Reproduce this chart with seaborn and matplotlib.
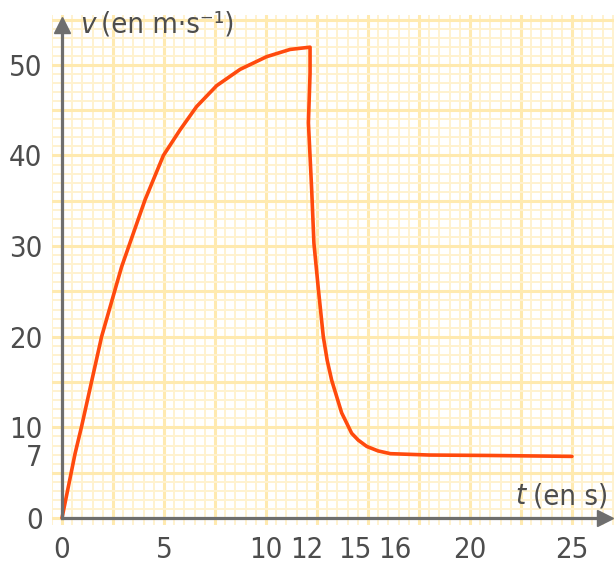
import numpy as np
import pandas as pd
import matplotlib
matplotlib.use("Agg")
import matplotlib.pyplot as plt
import matplotlib.transforms as mtransforms
import seaborn as sns

# speed of the car (t in s, v in m/s)
t_values = [0, 0.64, 0.96, 1.94, 2.92, 4.07, 4.97, 5.78, 6.6, 7.58, 8.73,
            10.03, 11.18, 12.16, 12.16, 12.08, 12.24, 12.35, 12.57, 12.81,
            13.0, 13.22, 13.71, 14.2, 14.52, 14.94, 15.5, 16.1, 18.0, 21.0, 25.0]
v_values = [0, 7.1, 10.1, 20.0, 27.7, 35.1, 40.0, 42.8, 45.4, 47.7, 49.5,
            50.9, 51.7, 51.95, 49.1, 43.6, 36.2, 30.3, 25.2, 20.0,
            17.4, 15.2, 11.6, 9.35, 8.6, 7.9, 7.4, 7.1, 6.95, 6.9, 6.8]

x_ticks = [0, 5, 10, 12, 15, 16, 20, 25]
y_ticks = [0, 7, 10, 20, 30, 40, 50]

AXIS_GREY = "#6e6e6e"
TEXT_GREY = "#4d4d4d"
CURVE = "#ff4a0d"
GRID_MINOR = "#fff2cf"
GRID_MAJOR = "#ffeab0"

sns.set_style("white")
plt.rcParams["font.family"] = ["DejaVu Sans"]
plt.rcParams["font.stretch"] = "condensed"

df = pd.DataFrame({"t": t_values, "v": v_values})

fig = plt.figure(figsize=(6.14, 5.67), dpi=100)
ax = fig.add_axes([52 / 614, 42 / 567, 562 / 614, 510 / 567])
ax.set_xlim(-0.49, 27.06)
ax.set_ylim(-0.77, 55.5)

# graph paper background
for gx in np.arange(-0.5, 27.1, 0.5):
    major = abs(gx / 2.5 - round(gx / 2.5)) < 1e-6
    ax.axvline(gx, color=GRID_MAJOR if major else GRID_MINOR,
               lw=2.2 if major else 1.4, zorder=0)
for gy in np.arange(0, 56, 1):
    major = gy % 5 == 0
    ax.axhline(gy, color=GRID_MAJOR if major else GRID_MINOR,
               lw=2.2 if major else 1.4, zorder=0)

sns.lineplot(data=df, x="t", y="v", sort=False, estimator=None,
             color=CURVE, lw=2.6, ax=ax, zorder=5)

# axes through the origin with arrows
for side in ["top", "right"]:
    ax.spines[side].set_visible(False)
ax.spines["left"].set_position(("data", 0))
ax.spines["bottom"].set_position(("data", 0))
ax.spines["left"].set_bounds(0, 54.5)
ax.spines["bottom"].set_bounds(0, 26.5)
for side in ["left", "bottom"]:
    ax.spines[side].set_color(AXIS_GREY)
    ax.spines[side].set_linewidth(2.3)
    ax.spines[side].set_zorder(6)
ax.plot([0], [54.4], marker="^", ms=11, color=AXIS_GREY, clip_on=False, zorder=7)
ax.plot([26.6], [0], marker=">", ms=11, color=AXIS_GREY, clip_on=False, zorder=7)

ax.set_xticks(x_ticks)
ax.set_yticks(y_ticks)
ax.tick_params(axis="both", colors=AXIS_GREY, width=2.3, length=7,
               labelsize=21, labelcolor=TEXT_GREY)
ax.tick_params(axis="x", pad=6)
ax.tick_params(axis="y", pad=7)
ax.set_xlabel("")
ax.set_ylabel("")

# 15 and 16 sit close together: push them apart like in the book
xlabels = ax.get_xticklabels()
xlabels[4].set_horizontalalignment("right")
xlabels[4].set_transform(xlabels[4].get_transform()
                         + mtransforms.ScaledTranslation(4 / 100, 0, fig.dpi_scale_trans))
xlabels[5].set_horizontalalignment("left")
xlabels[5].set_transform(xlabels[5].get_transform()
                         + mtransforms.ScaledTranslation(-10 / 100, 0, fig.dpi_scale_trans))

# axis names: italic symbol + upright unit
ax.text(0.9, 54.4, "v", fontsize=21, style="italic", color=TEXT_GREY,
        ha="left", va="center", zorder=8)
ax.text(0.9, 54.4, "(en m·s⁻¹)", fontsize=21, color=TEXT_GREY,
        ha="left", va="center", zorder=8,
        transform=mtransforms.offset_copy(ax.transData, fig=fig, x=21, y=0, units="dots"))
ax.text(26.8, 2.4, "(en s)", fontsize=21, color=TEXT_GREY,
        ha="right", va="center", zorder=8)
ax.text(26.8, 2.4, "t", fontsize=21, style="italic", color=TEXT_GREY,
        ha="right", va="center", zorder=8,
        transform=mtransforms.offset_copy(ax.transData, fig=fig, x=-83, y=0, units="dots"))

fig.savefig("out.png", dpi=100)
